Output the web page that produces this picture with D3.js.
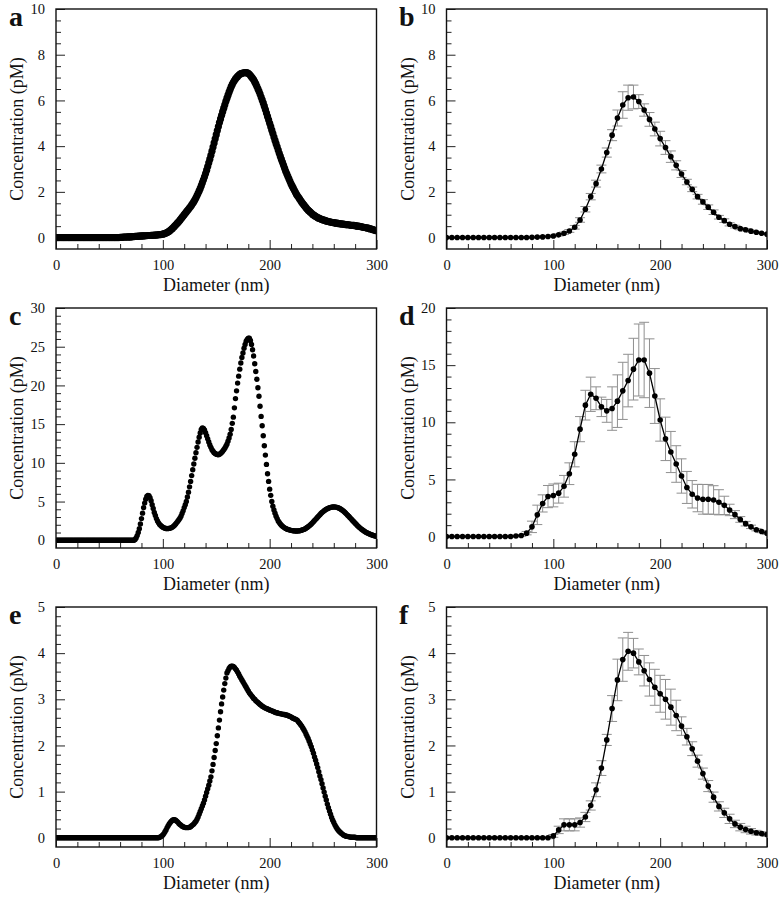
<!DOCTYPE html>
<html><head><meta charset="utf-8">
<script src="https://cdn.jsdelivr.net/npm/d3@7"></script>
<style>
body{margin:0;background:#fff;}
svg{display:block;}
text{font-family:"Liberation Serif","Times New Roman",serif;fill:#111;}
</style>
</head><body>
<svg id="chart" width="780" height="897"></svg>
<script>
// ---------- data ----------
const diameterDense = d3.range(0, 301, 1);   // nm, dense curves (a, c, e)
const diameterBinned = d3.range(0, 301, 5);  // nm, binned data (b, d, f)
const xTickLabels = [0, 100, 200, 300];
const xMinorTicks = [20, 40, 60, 80, 120, 140, 160, 180, 220, 240, 260, 280];

const concA = [
0,0,0,0,0,0,0,0,0,0,
0,0,0,0,0,0,0,0,0,0,
0,0,0,0,0,0,0,0,0,0,
0,0,0,0,0,0,0,0,0,0,
0,0,0,0,0,0,0,0,0,0,
0,0,0,0,0,0,0,0,0,0,
0.01,0.01,0.01,0.02,0.02,0.02,0.02,0.03,0.03,0.03,
0.03,0.04,0.04,0.04,0.05,0.05,0.05,0.06,0.06,0.06,
0.07,0.07,0.07,0.08,0.08,0.08,0.09,0.09,0.09,0.10,
0.10,0.10,0.11,0.11,0.11,0.12,0.12,0.13,0.13,0.14,
0.15,0.16,0.18,0.20,0.22,0.25,0.28,0.32,0.36,0.40,
0.45,0.50,0.55,0.60,0.65,0.70,0.76,0.82,0.88,0.94,
1.00,1.06,1.12,1.18,1.24,1.30,1.36,1.43,1.50,1.57,
1.65,1.74,1.84,1.94,2.04,2.15,2.27,2.40,2.53,2.66,
2.80,2.95,3.11,3.27,3.43,3.60,3.78,3.96,4.14,4.32,
4.50,4.68,4.86,5.03,5.19,5.35,5.51,5.66,5.81,5.96,
6.10,6.23,6.36,6.48,6.60,6.70,6.79,6.87,6.94,7.00,
7.05,7.10,7.14,7.17,7.19,7.20,7.21,7.22,7.22,7.21,
7.18,7.14,7.09,7.03,6.97,6.90,6.81,6.72,6.62,6.51,
6.40,6.28,6.15,6.02,5.89,5.75,5.60,5.45,5.30,5.15,
5.00,4.85,4.70,4.55,4.40,4.25,4.11,3.97,3.83,3.69,
3.55,3.42,3.29,3.16,3.03,2.90,2.79,2.68,2.57,2.46,
2.35,2.26,2.17,2.08,1.99,1.90,1.83,1.76,1.69,1.62,
1.55,1.49,1.43,1.37,1.31,1.25,1.20,1.16,1.11,1.07,
1.02,0.99,0.96,0.93,0.90,0.87,0.85,0.83,0.81,0.79,
0.77,0.76,0.74,0.73,0.71,0.70,0.69,0.68,0.67,0.66,
0.65,0.64,0.63,0.63,0.62,0.61,0.60,0.60,0.59,0.59,
0.58,0.57,0.57,0.56,0.56,0.55,0.54,0.54,0.53,0.53,
0.52,0.51,0.50,0.50,0.49,0.48,0.47,0.46,0.45,0.44,
0.43,0.42,0.41,0.40,0.38,0.37,0.36,0.34,0.33,0.31,
0.30];

const concC = [
0,0,0,0,0,0,0,0,0,0,
0,0,0,0,0,0,0,0,0,0,
0,0,0,0,0,0,0,0,0,0,
0,0,0,0,0,0,0,0,0,0,
0,0,0,0,0,0,0,0,0,0,
0,0,0,0,0,0,0,0,0,0,
0,0,0,0,0,0,0,0,0,0,
0,0,0,0,0.1,0.3,0.6,1.0,1.5,2.1,
2.8,3.5,4.2,4.8,5.3,5.65,5.8,5.75,5.5,5.1,
4.6,4.1,3.6,3.2,2.8,2.5,2.25,2.05,1.9,1.78,
1.68,1.6,1.55,1.52,1.5,1.51,1.53,1.57,1.63,1.7,
1.8,1.95,2.1,2.28,2.45,2.65,2.85,3.1,3.45,3.8,
4.2,4.6,5.0,5.6,6.2,6.9,7.6,8.35,9.1,9.85,
10.6,11.3,12.0,12.7,13.3,13.85,14.3,14.5,14.45,14.25,
13.9,13.5,13.1,12.7,12.3,12.0,11.7,11.5,11.3,11.2,
11.1,11.07,11.05,11.1,11.2,11.33,11.5,11.7,11.9,12.15,
12.4,12.8,13.2,13.7,14.3,15.1,15.9,17.1,18.3,19.3,
20.3,21.2,22.1,22.9,23.6,24.2,24.8,25.3,25.7,25.95,
26.1,26.1,25.8,25.3,24.6,23.8,22.8,21.8,20.8,19.7,
18.6,17.3,16.0,14.8,13.5,12.2,11.0,9.8,8.6,7.6,
6.6,5.8,5.0,4.4,3.9,3.5,3.1,2.8,2.5,2.3,
2.1,1.95,1.8,1.7,1.6,1.52,1.45,1.4,1.35,1.31,
1.28,1.25,1.23,1.21,1.2,1.2,1.2,1.21,1.23,1.26,
1.3,1.35,1.4,1.47,1.55,1.65,1.75,1.86,1.98,2.11,
2.25,2.4,2.55,2.7,2.85,3.0,3.15,3.3,3.45,3.58,
3.7,3.82,3.92,4.0,4.08,4.14,4.2,4.24,4.27,4.29,
4.3,4.3,4.28,4.24,4.2,4.14,4.07,3.98,3.88,3.77,
3.65,3.52,3.38,3.24,3.1,2.95,2.8,2.65,2.5,2.35,
2.2,2.06,1.92,1.79,1.66,1.54,1.43,1.33,1.23,1.14,
1.05,0.97,0.9,0.84,0.78,0.72,0.67,0.62,0.58,0.54,
0.5];

const concE = [
0,0,0,0,0,0,0,0,0,0,
0,0,0,0,0,0,0,0,0,0,
0,0,0,0,0,0,0,0,0,0,
0,0,0,0,0,0,0,0,0,0,
0,0,0,0,0,0,0,0,0,0,
0,0,0,0,0,0,0,0,0,0,
0,0,0,0,0,0,0,0,0,0,
0,0,0,0,0,0,0,0,0,0,
0,0,0,0,0,0,0,0,0,0,
0,0,0,0,0,0,0,0.01,0.02,0.04,
0.06,0.09,0.13,0.17,0.22,0.26,0.3,0.33,0.36,0.38,
0.39,0.39,0.38,0.36,0.34,0.31,0.29,0.27,0.25,0.24,
0.23,0.22,0.22,0.22,0.22,0.23,0.24,0.26,0.28,0.3,
0.33,0.36,0.4,0.45,0.51,0.57,0.63,0.69,0.75,0.82,
0.9,0.98,1.06,1.14,1.23,1.32,1.45,1.59,1.74,1.89,
2.04,2.21,2.38,2.55,2.73,2.9,3.05,3.2,3.34,3.46,
3.57,3.62,3.67,3.7,3.72,3.72,3.71,3.69,3.66,3.63,
3.59,3.55,3.5,3.46,3.42,3.38,3.34,3.3,3.26,3.22,
3.18,3.14,3.11,3.08,3.05,3.02,3.0,2.97,2.95,2.93,
2.91,2.89,2.87,2.85,2.84,2.82,2.81,2.8,2.79,2.78,
2.77,2.76,2.75,2.74,2.73,2.72,2.71,2.71,2.7,2.69,
2.69,2.68,2.68,2.67,2.67,2.66,2.66,2.65,2.64,2.63,
2.62,2.6,2.59,2.58,2.57,2.56,2.54,2.51,2.48,2.45,
2.42,2.38,2.34,2.3,2.25,2.2,2.15,2.09,2.03,1.97,
1.9,1.83,1.75,1.68,1.6,1.52,1.43,1.34,1.26,1.17,
1.08,0.99,0.9,0.82,0.73,0.65,0.58,0.51,0.44,0.38,
0.33,0.28,0.24,0.2,0.17,0.14,0.12,0.1,0.08,0.06,
0.05,0.04,0.03,0.03,0.02,0.02,0.01,0.01,0.01,0.01,
0.01,0,0,0,0,0,0,0,0,0,
0,0,0,0,0,0,0,0,0,0,
0];

const concB = [
0,0,0,0,0,0,0,0,0,0,
0,0,0,0,0,0,0.01,0.02,0.03,0.05,
0.07,0.12,0.19,0.29,0.45,0.77,1.24,1.79,2.36,3.0,
3.72,4.48,5.23,5.8,6.12,6.15,5.95,5.58,5.17,4.75,
4.33,3.94,3.54,3.16,2.78,2.43,2.11,1.79,1.56,1.33,
1.11,0.89,0.74,0.58,0.48,0.39,0.34,0.28,0.23,0.19,
0.15];
const errB = [
0.03,0.03,0.03,0.03,0.03,0.03,0.03,0.03,0.03,0.03,
0.03,0.03,0.03,0.03,0.03,0.03,0.03,0.03,0.03,0.03,
0.04,0.05,0.05,0.06,0.08,0.1,0.12,0.14,0.15,0.17,
0.2,0.24,0.35,0.58,0.55,0.52,0.3,0.27,0.3,0.3,
0.32,0.3,0.25,0.2,0.15,0.12,0.1,0.1,0.1,0.1,
0.1,0.08,0.08,0.07,0.06,0.05,0.05,0.04,0.04,0.03,
0.03];

const concD = [
0,0,0,0,0,0,0,0,0,0,
0,0,0,0.05,0.1,0.3,0.85,1.9,2.9,3.5,
3.6,3.8,4.4,5.5,7.2,9.4,11.5,12.45,12.1,11.35,
11.0,11.2,11.85,12.75,13.65,14.65,15.45,15.45,14.3,12.3,
10.2,8.55,7.4,6.35,5.3,4.3,3.7,3.37,3.26,3.26,
3.2,3.0,2.73,2.33,1.92,1.5,1.13,0.85,0.6,0.44,
0.3];
const errD = [
0.05,0.05,0.05,0.05,0.05,0.05,0.05,0.05,0.05,0.05,
0.05,0.05,0.05,0.05,0.08,0.15,0.5,0.85,0.75,0.97,
1.0,0.87,0.95,0.95,1.1,1.1,1.3,1.5,1.0,0.85,
1.0,1.9,2.3,2.5,2.3,2.7,3.15,3.3,3.0,2.4,
1.85,1.9,1.8,1.6,1.5,1.4,1.2,1.2,1.3,1.3,
1.25,1.1,0.8,0.5,0.35,0.25,0.2,0.15,0.1,0.1,
0.1];

const concF = [
0,0,0,0,0,0,0,0,0,0,
0,0,0,0,0,0,0,0,0,0,
0.04,0.17,0.28,0.28,0.28,0.33,0.45,0.7,1.04,1.51,
2.12,2.8,3.42,3.86,4.04,4.0,3.81,3.62,3.43,3.26,
3.12,3.0,2.83,2.65,2.42,2.19,1.93,1.66,1.39,1.12,
0.88,0.68,0.54,0.41,0.3,0.23,0.18,0.14,0.11,0.09,
0.07];
const errF = [
0.02,0.02,0.02,0.02,0.02,0.02,0.02,0.02,0.02,0.02,
0.02,0.02,0.02,0.02,0.02,0.02,0.02,0.02,0.02,0.02,
0.03,0.08,0.13,0.13,0.13,0.1,0.1,0.1,0.15,0.16,
0.12,0.28,0.45,0.47,0.41,0.32,0.28,0.33,0.36,0.39,
0.4,0.43,0.39,0.33,0.2,0.18,0.15,0.13,0.12,0.12,
0.11,0.1,0.1,0.1,0.08,0.08,0.07,0.06,0.05,0.04,
0.04];

const yTicksAB = [0, 2, 4, 6, 8, 10];
const yTicksC = [0, 5, 10, 15, 20, 25, 30];
const yTicksD = [0, 5, 10, 15, 20];
const yTicksEF = [0, 1, 2, 3, 4, 5];

const xTitle = "Diameter (nm)";
const yTitle = "Concentration (pM)";

// ---------- panels ----------
const panels = [
  {label:"a", col:0, row:0, xs:diameterDense, ys:concA, yDomain:[-0.5,10], yTicks:yTicksAB, yMinorStep:0.5, r:3.6},
  {label:"b", col:1, row:0, xs:diameterBinned, ys:concB, err:errB, yDomain:[-0.5,10], yTicks:yTicksAB, yMinorStep:0.5, r:2.8},
  {label:"c", col:0, row:1, xs:diameterDense, ys:concC, yDomain:[-1,30], yTicks:yTicksC, yMinorStep:1, r:2.7},
  {label:"d", col:1, row:1, xs:diameterBinned, ys:concD, err:errD, yDomain:[-1,20], yTicks:yTicksD, yMinorStep:1, r:2.8},
  {label:"e", col:0, row:2, xs:diameterDense, ys:concE, yDomain:[-0.2,5], yTicks:yTicksEF, yMinorStep:0.2, r:2.7},
  {label:"f", col:1, row:2, xs:diameterBinned, ys:concF, err:errF, yDomain:[-0.2,5], yTicks:yTicksEF, yMinorStep:0.2, r:2.8}
];

const svg = d3.select("#chart");
const W = 320.5, H = 240;
const colX = [56, 446.5];
const rowY = [9, 308, 607];
const letterX = [9, 399];

panels.forEach((p, i) => {
  const left = colX[p.col], top = rowY[p.row];
  const g = svg.append("g").attr("transform", `translate(${left},${top})`);
  const x = d3.scaleLinear().domain([0, 300]).range([0, W]);
  const y = d3.scaleLinear().domain(p.yDomain).range([H, 0]);

  const clipId = "clip" + i;
  g.append("clipPath").attr("id", clipId).append("rect")
    .attr("x", 0).attr("y", 0).attr("width", W).attr("height", H);

  // minor ticks
  const yMax = p.yDomain[1];
  const yMinor = d3.range(0, yMax + 1e-9, p.yMinorStep)
    .filter(v => !p.yTicks.some(t => Math.abs(t - v) < 1e-6));
  const styleAxis = s => {
    s.select(".domain").remove();
    s.selectAll(".tick line").attr("stroke", "#222").attr("stroke-width", 1);
    s.selectAll(".tick text").attr("font-size", 14.5).attr("fill", "#111")
      .attr("font-family", '"Liberation Serif","Times New Roman",serif');
  };
  g.append("g").attr("transform", `translate(0,${H})`)
    .call(d3.axisBottom(x).tickValues(xMinorTicks).tickSizeInner(-5).tickSizeOuter(0).tickFormat(""))
    .call(styleAxis);
  g.append("g").attr("transform", `translate(0,${H})`)
    .call(d3.axisBottom(x).tickValues(xTickLabels).tickSizeInner(-9).tickSizeOuter(0).tickPadding(11).tickFormat(d3.format("d")))
    .call(styleAxis);
  g.append("g")
    .call(d3.axisLeft(y).tickValues(yMinor).tickSizeInner(-5).tickSizeOuter(0).tickFormat(""))
    .call(styleAxis);
  g.append("g")
    .call(d3.axisLeft(y).tickValues(p.yTicks).tickSizeInner(-9).tickSizeOuter(0).tickPadding(11).tickFormat(d3.format("d")))
    .call(styleAxis);

  const data = p.xs.map((d, k) => ({x: d, y: p.ys[k], e: p.err ? p.err[k] : 0}));
  const plot = g.append("g").attr("clip-path", `url(#${clipId})`);

  if (p.err) {
    const eb = plot.append("g").attr("stroke", "#8f8f8f").attr("stroke-width", 1).attr("fill", "none");
    data.forEach(d => {
      const cx = x(d.x), y1 = y(d.y - d.e), y2 = y(d.y + d.e);
      eb.append("line").attr("x1", cx).attr("x2", cx).attr("y1", y1).attr("y2", y2);
      eb.append("line").attr("x1", cx - 5).attr("x2", cx + 5).attr("y1", y1).attr("y2", y1);
      eb.append("line").attr("x1", cx - 5).attr("x2", cx + 5).attr("y1", y2).attr("y2", y2);
    });
    plot.append("path").datum(data)
      .attr("fill", "none").attr("stroke", "#000").attr("stroke-width", 1.3)
      .attr("d", d3.line().x(d => x(d.x)).y(d => y(d.y)));
  }
  plot.append("g").selectAll("circle").data(data).join("circle")
    .attr("cx", d => x(d.x)).attr("cy", d => y(d.y)).attr("r", p.r).attr("fill", "#000");

  // frame
  g.append("rect").attr("x", 0).attr("y", 0).attr("width", W).attr("height", H)
    .attr("fill", "none").attr("stroke", "#111").attr("stroke-width", 1.4);

  // titles
  g.append("text").attr("x", W / 2).attr("y", H + 42).attr("text-anchor", "middle")
    .attr("font-size", 18).text(xTitle);
  g.append("text").attr("transform", `translate(${-33},${H / 2}) rotate(-90)`)
    .attr("text-anchor", "middle").attr("font-size", 18).text(yTitle);

  // panel letter
  svg.append("text").attr("x", letterX[p.col]).attr("y", top + 17)
    .attr("font-size", 28).attr("font-weight", "bold").text(p.label);
});
</script>
</body></html>
